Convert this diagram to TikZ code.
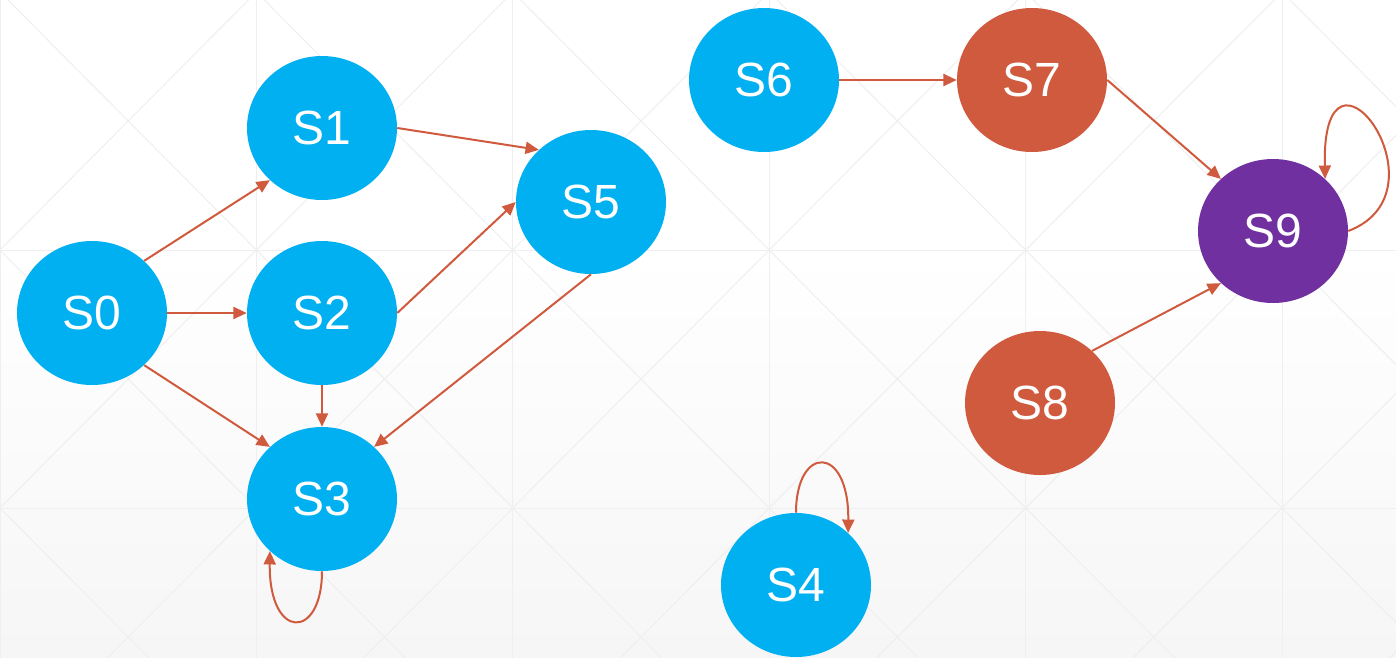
\documentclass[tikz,border=0pt]{standalone}
\usepackage{fontspec}
\setmainfont{Liberation Sans}
\usetikzlibrary{shapes.geometric,arrows.meta}
\definecolor{sblue}{HTML}{00B0F0}
\definecolor{sred}{HTML}{D05A3E}
\definecolor{spurple}{HTML}{7030A0}
\definecolor{gridc}{HTML}{EFEFEF}
\definecolor{bgbot}{HTML}{F6F6F6}
\tikzset{
  state/.style={ellipse, minimum width=112.5pt, minimum height=108pt, inner sep=0pt,
    text=white, font=\fontsize{36}{36}\selectfont},
  bluestate/.style={state, fill=sblue},
  redstate/.style={state, fill=sred},
  purplestate/.style={state, fill=spurple},
  edge/.style={draw=sred, line width=1.5pt, -{Triangle[length=10pt,width=9pt]}, shorten >=0pt},
}
\begin{document}
\begin{tikzpicture}[x=0.75pt,y=-0.75pt]
\useasboundingbox (0,0) rectangle (1396,657);
% background
\fill[white] (0,0) rectangle (1396,250);
\shade[top color=white, bottom color=bgbot] (0,250) rectangle (1396,657);
\begin{scope}
\clip (0,0) rectangle (1396,657);
\foreach \i in {0,...,5}{
  \foreach \j in {0,1,2}{
    \draw[gridc, line width=0.75pt] (\i*256.4,-8+\j*258) rectangle ++(256.4,258);
    \draw[gridc, line width=0.75pt] (\i*256.4,-8+\j*258) -- ++(256.4,258);
    \draw[gridc, line width=0.75pt] (\i*256.4+256.4,-8+\j*258) -- ++(-256.4,258);
  }
}
\end{scope}
% nodes
\node[bluestate] (S0) at (92,313) {S0};
\node[bluestate] (S1) at (322,128) {S1};
\node[bluestate] (S2) at (322,313) {S2};
\node[bluestate] (S3) at (322,499) {S3};
\node[bluestate] (S5) at (591,202) {S5};
\node[bluestate] (S6) at (764,80) {S6};
\node[redstate] (S7) at (1032,80) {S7};
\node[purplestate] (S9) at (1273,231) {S9};
\node[redstate] (S8) at (1040,403) {S8};
\node[bluestate] (S4) at (796,585) {S4};
% edges
\draw[edge] (S0.45) -- (S1.225);
\draw[edge] (S0.east) -- (S2.west);
\draw[edge] (S0.-45) -- (S3.135);
\draw[edge] (S2.south) -- (S3.north);
\draw[edge] (S1.east) -- (S5.135);
\draw[edge] (S2.east) -- (S5.west);
\draw[edge] (S5.south) -- (S3.45);
\draw[edge] (S6.east) -- (S7.west);
\draw[edge] (S7.east) -- (S9.135);
\draw[edge] (S8.45) -- (S9.225);
\draw[edge] (S3.south) .. controls ++(0,69) and ++(-1,90) .. (S3.225);
\draw[edge] (S4.north) .. controls ++(0,-68) and ++(1,-89) .. (S4.45);
\draw[edge] (S9.east) .. controls ++(105,-40) and ++(-4,-165) .. (S9.45);
\end{tikzpicture}
\end{document}
